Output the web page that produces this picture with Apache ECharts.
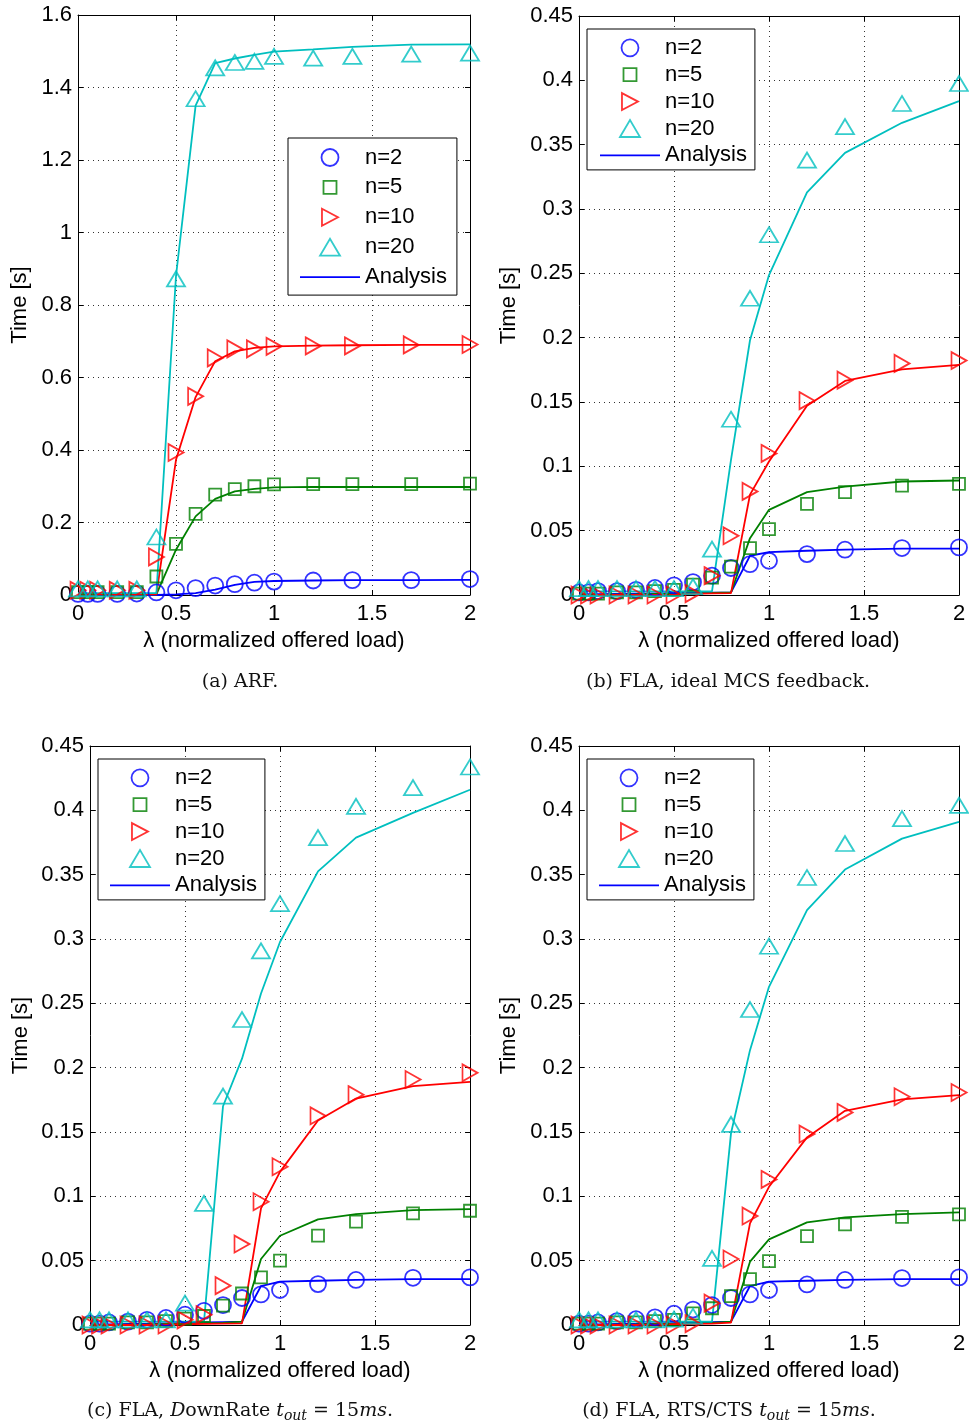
<!DOCTYPE html>
<html>
<head>
<meta charset="utf-8">
<script src="https://cdn.jsdelivr.net/npm/echarts@6.0.0/dist/echarts.min.js"></script>
<style>
  html, body { margin: 0; padding: 0; background: #fff; }
  #chart { width: 969px; height: 1426px; }
</style>
</head>
<body>
<div id="chart"></div>
<script>
// Normalized offered load (shared x values of every curve)
const loadX = [0, 0.05, 0.1, 0.2, 0.3, 0.4, 0.5, 0.6, 0.7, 0.8, 0.9, 1.0, 1.2, 1.4, 1.7, 2.0];

const seriesNames = ['n=2', 'n=5', 'n=10', 'n=20'];
const analysisName = 'Analysis';
const xAxisTitle = 'λ (normalized offered load)';
const yAxisTitle = 'Time [s]';

// (a) ARF — simulation and analysis [s]
const arfSim2  = [0.003, 0.003, 0.003, 0.003, 0.004, 0.007, 0.013, 0.019, 0.026, 0.030, 0.034, 0.037, 0.040, 0.041, 0.041, 0.044];
const arfSim5  = [0.008, 0.008, 0.008, 0.008, 0.008, 0.051, 0.141, 0.224, 0.277, 0.292, 0.300, 0.305, 0.306, 0.306, 0.306, 0.307];
const arfSim10 = [0.013, 0.013, 0.013, 0.013, 0.013, 0.105, 0.393, 0.548, 0.654, 0.679, 0.679, 0.686, 0.687, 0.687, 0.690, 0.691];
const arfSim20 = [0.017, 0.017, 0.017, 0.017, 0.017, 0.160, 0.872, 1.369, 1.454, 1.469, 1.472, 1.486, 1.481, 1.486, 1.492, 1.495];
const arfAna2  = [0, 0, 0, 0, 0, 0, 0.002, 0.005, 0.015, 0.028, 0.036, 0.0386, 0.040, 0.041, 0.041, 0.042];
const arfAna5  = [0.002, 0.002, 0.002, 0.002, 0.002, 0.002, 0.125, 0.217, 0.265, 0.286, 0.293, 0.297, 0.298, 0.298, 0.298, 0.298];
const arfAna10 = [0.002, 0.002, 0.002, 0.002, 0.002, 0.002, 0.373, 0.546, 0.645, 0.672, 0.682, 0.686, 0.688, 0.689, 0.690, 0.690];
const arfAna20 = [0.005, 0.005, 0.005, 0.005, 0.005, 0.005, 0.880, 1.350, 1.467, 1.480, 1.490, 1.499, 1.505, 1.512, 1.518, 1.519];

// (b) FLA, ideal MCS feedback
const idealSim2  = [0.002, 0.002, 0.003, 0.003, 0.004, 0.0055, 0.0075, 0.010, 0.015, 0.021, 0.024, 0.0266, 0.0318, 0.0352, 0.0365, 0.037];
const idealSim5  = [0.001, 0.001, 0.001, 0.002, 0.002, 0.003, 0.004, 0.008, 0.0135, 0.022, 0.0365, 0.0512, 0.0709, 0.080, 0.085, 0.0864];
const idealSim10 = [0, 0, 0, 0, 0, 0, 0, 0.001, 0.015, 0.046, 0.0805, 0.110, 0.151, 0.167, 0.180, 0.1822];
const idealSim20 = [0.005, 0.005, 0.005, 0.005, 0.005, 0.005, 0.005, 0.0065, 0.0357, 0.1366, 0.2306, 0.280, 0.338, 0.364, 0.382, 0.3975];
const idealAna2  = [0.0005, 0.0006, 0.0007, 0.0009, 0.0011, 0.0013, 0.0015, 0.0017, 0.0019, 0.002, 0.0305, 0.0334, 0.0344, 0.0352, 0.036, 0.036];
const idealAna5  = [0, 0, 0.0001, 0.0003, 0.0005, 0.0008, 0.001, 0.0013, 0.0016, 0.002, 0.0442, 0.0662, 0.080, 0.0843, 0.0882, 0.089];
const idealAna10 = [0, 0, 0, 0, 0, 0, 0.0003, 0.0008, 0.0012, 0.0015, 0.078, 0.1037, 0.147, 0.1664, 0.1754, 0.1788];
const idealAna20 = [0.0028, 0.0028, 0.0028, 0.0028, 0.0028, 0.0028, 0.0028, 0.0028, 0.0028, 0.105, 0.198, 0.2487, 0.3129, 0.3436, 0.367, 0.3838];

// (c) FLA, DownRate t_out = 15 ms
const downSim2  = [0.001, 0.001, 0.002, 0.0026, 0.004, 0.0055, 0.008, 0.011, 0.0155, 0.021, 0.0238, 0.0272, 0.0318, 0.035, 0.0367, 0.037];
const downSim5  = [0.001, 0.001, 0.001, 0.002, 0.002, 0.003, 0.005, 0.007, 0.015, 0.0245, 0.037, 0.050, 0.0694, 0.0803, 0.0867, 0.0888];
const downSim10 = [0, 0, 0, 0, 0, 0, 0.004, 0.008, 0.0306, 0.0629, 0.0958, 0.123, 0.1626, 0.179, 0.1908, 0.196];
const downSim20 = [0.004, 0.004, 0.004, 0.004, 0.004, 0.004, 0.017, 0.0945, 0.1779, 0.2374, 0.2908, 0.3275, 0.3788, 0.4031, 0.4176, 0.4337];
const downAna2  = [0.0003, 0.0004, 0.0005, 0.0008, 0.001, 0.0013, 0.0016, 0.002, 0.0023, 0.0026, 0.0303, 0.0337, 0.0344, 0.035, 0.0357, 0.0357];
const downAna5  = [0, 0, 0.0001, 0.0003, 0.0005, 0.0008, 0.001, 0.0013, 0.0016, 0.0026, 0.0513, 0.0694, 0.0821, 0.0862, 0.0893, 0.0901];
const downAna10 = [0, 0, 0, 0, 0, 0.0003, 0.0006, 0.0009, 0.0011, 0.0013, 0.0906, 0.119, 0.159, 0.176, 0.1856, 0.189];
const downAna20 = [0.0026, 0.0026, 0.0026, 0.0026, 0.0026, 0.0026, 0.0026, 0.0026, 0.170, 0.207, 0.2576, 0.2977, 0.3526, 0.3788, 0.398, 0.416];

// (d) FLA, RTS/CTS t_out = 15 ms
const rtsSim2  = [0.001, 0.001, 0.002, 0.003, 0.0045, 0.006, 0.0088, 0.012, 0.0155, 0.021, 0.0238, 0.0272, 0.0315, 0.035, 0.0365, 0.037];
const rtsSim5  = [0.001, 0.001, 0.001, 0.002, 0.002, 0.003, 0.004, 0.009, 0.013, 0.0225, 0.0357, 0.0497, 0.0691, 0.0782, 0.0841, 0.086];
const rtsSim10 = [0, 0, 0, 0, 0, 0, 0, 0.001, 0.017, 0.0513, 0.0847, 0.1131, 0.1484, 0.1652, 0.1774, 0.1807];
const rtsSim20 = [0.004, 0.004, 0.004, 0.004, 0.004, 0.004, 0.0045, 0.0068, 0.0518, 0.1559, 0.2452, 0.2944, 0.3478, 0.3742, 0.3936, 0.4039];
const rtsAna2  = [0.0003, 0.0004, 0.0005, 0.0008, 0.001, 0.0013, 0.0016, 0.002, 0.0023, 0.0026, 0.0303, 0.0337, 0.0344, 0.035, 0.0357, 0.0357];
const rtsAna5  = [0, 0, 0.0001, 0.0003, 0.0005, 0.0008, 0.001, 0.0013, 0.0016, 0.0026, 0.0492, 0.0666, 0.0798, 0.0837, 0.0862, 0.0875];
const rtsAna10 = [0, 0, 0, 0, 0, 0.0003, 0.0006, 0.0009, 0.0011, 0.0018, 0.079, 0.1074, 0.1458, 0.1665, 0.1753, 0.1787];
const rtsAna20 = [0.0026, 0.0026, 0.0026, 0.0026, 0.0026, 0.0026, 0.0026, 0.0026, 0.0026, 0.149, 0.2136, 0.2628, 0.3224, 0.354, 0.378, 0.391];

// ---------------------------------------------------------------------------
const SANS = '"Liberation Sans", Arial, sans-serif';
const SERIF = '"DejaVu Serif", serif';
const FS = 22;
const LW = 1.8;
const colors = ['#0000ff', '#008000', '#ff0000', '#00bfbf'];
const symbols = ['circle', 'rect', 'path://M0,0L17,9L0,18Z', 'triangle'];
const symbolSizes = [16, 12, [15, 17], [18, 15]];
// legend icons (the leading moves pad the square so it stays smaller than the circle)
const legendIcons = [
  'circle',
  'path://M0,0M17,17M2,2L15,2L15,15L2,15Z',
  'path://M0,0L17,9L0,18Z',
  'path://M0,17L10,0L20,17Z'
];
const analysisIcon = 'path://M0,0L60,0L60,1.8L0,1.8Z';

const panels = [
  { grid: { left: 78, top: 15, width: 392, height: 580 }, yMax: 1.6, yStep: 0.2, yNameGap: 47,
    sim: [arfSim2, arfSim5, arfSim10, arfSim20], ana: [arfAna2, arfAna5, arfAna10, arfAna20],
    legend: { left: 288, top: 138, padding: [8.5, 10, 7, 12], itemGap: 7.9 } },
  { grid: { left: 579, top: 16, width: 380, height: 579 }, yMax: 0.45, yStep: 0.05, yNameGap: 59,
    sim: [idealSim2, idealSim5, idealSim10, idealSim20], ana: [idealAna2, idealAna5, idealAna10, idealAna20],
    legend: { left: 587, top: 29, padding: [7.8, 8, 3.5, 13], itemGap: 4.9 } },
  { grid: { left: 90, top: 746, width: 380, height: 579 }, yMax: 0.45, yStep: 0.05, yNameGap: 58,
    sim: [downSim2, downSim5, downSim10, downSim20], ana: [downAna2, downAna5, downAna10, downAna20],
    legend: { left: 98, top: 759, padding: [7.8, 8, 3.5, 12], itemGap: 4.9 } },
  { grid: { left: 579, top: 746, width: 380, height: 579 }, yMax: 0.45, yStep: 0.05, yNameGap: 59,
    sim: [rtsSim2, rtsSim5, rtsSim10, rtsSim20], ana: [rtsAna2, rtsAna5, rtsAna10, rtsAna20],
    legend: { left: 587, top: 759, padding: [7.8, 8, 3.5, 12], itemGap: 4.9 } }
];

const pairs = (ys) => loadX.map((x, i) => [x, ys[i]]);

const grids = [], xAxes = [], yAxes = [], series = [], legends = [];
const axisLineStyle = { show: true, onZero: false, lineStyle: { color: '#000', width: 1 } };
const tickStyle = { show: true, inside: true, length: 5, lineStyle: { color: '#000', width: 1 } };
const gridLineStyle = { show: true, lineStyle: { color: '#333', width: 1, type: [1, 4] } };

const legendData = seriesNames.map((name, i) => ({
  name: name, icon: legendIcons[i],
  itemStyle: { color: 'rgba(0,0,0,0)', borderColor: colors[i], borderWidth: LW }
})).concat([{
  name: analysisName, icon: analysisIcon,
  itemStyle: { color: colors[0], borderWidth: 0 }
}]);

panels.forEach((p, g) => {
  grids.push(Object.assign({ containLabel: false, outerBoundsMode: 'none' }, p.grid));

  xAxes.push({
    gridIndex: g, type: 'value', position: 'bottom', min: 0, max: 2, interval: 0.5,
    axisLine: axisLineStyle, axisTick: tickStyle, splitLine: gridLineStyle,
    axisLabel: { color: '#000', fontSize: FS, fontFamily: SANS, margin: 8 },
    name: xAxisTitle, nameLocation: 'middle', nameGap: 35,
    nameTextStyle: { color: '#000', fontSize: FS, fontFamily: SANS }
  });
  xAxes.push({
    gridIndex: g, type: 'value', position: 'top', min: 0, max: 2, interval: 0.5,
    axisLine: axisLineStyle, axisTick: tickStyle, splitLine: { show: false },
    axisLabel: { show: false }
  });
  yAxes.push({
    gridIndex: g, type: 'value', position: 'left', min: 0, max: p.yMax, interval: p.yStep,
    axisLine: axisLineStyle, axisTick: tickStyle, splitLine: gridLineStyle,
    axisLabel: { color: '#000', fontSize: FS, fontFamily: SANS, margin: 6 },
    name: yAxisTitle, nameLocation: 'middle', nameGap: p.yNameGap,
    nameTextStyle: { color: '#000', fontSize: FS, fontFamily: SANS }
  });
  yAxes.push({
    gridIndex: g, type: 'value', position: 'right', min: 0, max: p.yMax, interval: p.yStep,
    axisLine: axisLineStyle, axisTick: tickStyle, splitLine: { show: false },
    axisLabel: { show: false }
  });

  // analysis curves
  p.ana.forEach((ys, i) => {
    series.push({
      type: 'line', name: analysisName, xAxisIndex: 2 * g, yAxisIndex: 2 * g,
      data: pairs(ys), symbol: 'none', showSymbol: false, smooth: false,
      lineStyle: { color: colors[i], width: LW }, itemStyle: { color: colors[i] },
      silent: true, z: 2
    });
  });
  // simulation markers
  p.sim.forEach((ys, i) => {
    series.push({
      type: 'scatter', name: seriesNames[i], xAxisIndex: 2 * g, yAxisIndex: 2 * g,
      data: pairs(ys), symbol: symbols[i], symbolSize: symbolSizes[i], clip: false,
      itemStyle: { color: 'rgba(0,0,0,0)', borderColor: colors[i], borderWidth: LW },
      silent: true, z: 3
    });
  });

  legends.push({
    orient: 'vertical', left: p.legend.left, top: p.legend.top,
    padding: p.legend.padding, itemGap: p.legend.itemGap,
    itemWidth: 60, itemHeight: 17,
    backgroundColor: '#fff', borderColor: '#000', borderWidth: 1, borderRadius: 0,
    selectedMode: false,
    textStyle: { color: '#000', fontSize: FS, fontFamily: SANS, lineHeight: 22 },
    data: legendData
  });
});

const captionRich = {
  i: { fontFamily: SERIF, fontSize: 19, fontStyle: 'italic', fill: '#111' },
  s: { fontFamily: SERIF, fontSize: 14, fontStyle: 'italic', fill: '#111', padding: [10, 0, 0, 0] }
};
const caption = (x, y, text) => ({
  type: 'text', x: x, y: y, silent: true,
  style: { text: text, fontFamily: SERIF, fontSize: 19, fill: '#111',
           align: 'center', verticalAlign: 'middle', rich: captionRich }
});

const chart = echarts.init(document.getElementById('chart'), null, { renderer: 'canvas' });
chart.setOption({
  animation: false,
  backgroundColor: '#fff',
  grid: grids,
  xAxis: xAxes,
  yAxis: yAxes,
  legend: legends,
  series: series,
  graphic: [
    caption(240, 682, '(a) ARF.'),
    caption(728, 682, '(b) FLA, ideal MCS feedback.'),
    caption(240, 1411, '(c) FLA, {i|D}ownRate {i|t}{s|out} = 15{i|ms}.'),
    caption(729, 1411, '(d) FLA, RTS/CTS {i|t}{s|out} = 15{i|ms}.')
  ]
});
</script>
</body>
</html>
